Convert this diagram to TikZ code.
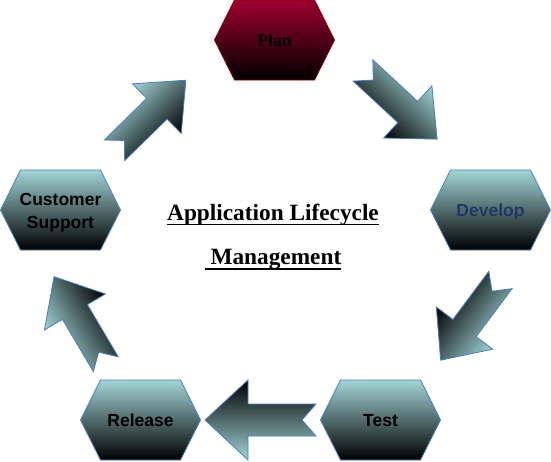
\documentclass[tikz,border=0pt]{standalone}
\usepackage{fontspec}
\setmainfont{Liberation Serif}
\newfontfamily\arialf{Liberation Sans}
\usetikzlibrary{calc}
\definecolor{teall}{RGB}{162,212,214}
\definecolor{hexborder}{RGB}{74,126,187}
\definecolor{planred}{RGB}{158,0,48}
\definecolor{planborder}{RGB}{128,0,0}
\definecolor{devblue}{RGB}{31,56,100}
\tikzset{
  hexteal/.style={top color=teall, bottom color=black, draw=hexborder, line width=0.8pt},
  hexplan/.style={top color=planred, bottom color=black, draw=planborder, line width=0.8pt},
  lbl/.style={font=\arialf\bfseries\fontsize{17.5}{22.5}\selectfont, align=center, inner sep=0pt, anchor=base},
  planlbl/.style={font=\bfseries\fontsize{17.5}{21}\selectfont, inner sep=0pt, anchor=base},
  barrow/.style={top color=teall, bottom color=black, draw=hexborder, line width=0.8pt, line join=miter},
  titletext/.style={font=\bfseries\fontsize{23.3}{28}\selectfont, inner sep=0pt, anchor=base},
  uline/.style={line width=1.3pt}
}
% hexagon centred on a named coordinate
\newcommand\hexshape[4]{%
  \coordinate (#1) at (#2,#3);
  \path[#4] ($(#1)+(-60,0)$) -- ++(20,-40) -- ++(80,0) -- ++(20,40)
     -- ++(-20,40) -- ++(-80,0) -- cycle;
}
% notched block arrow: #1 tail coordinate, #2 angle, #3 length, #4 head length, #5 head half width, #6 shaft half width
\newcommand\blockarr[6]{%
  \begin{scope}[transform canvas={shift={(#1)},rotate=#2}]
    \path[barrow] (0,-#6) -- ({#3-#4},-#6) -- ({#3-#4},-#5) -- (#3,0)
       -- ({#3-#4},#5) -- ({#3-#4},#6) -- (0,#6) -- (14,0) -- cycle;
  \end{scope}
}
\begin{document}
\begin{tikzpicture}[x=1pt,y=-1pt]
\useasboundingbox (0,0) rectangle (551,461);

% hexagons
\hexshape{planc}{274.5}{40}{hexplan}
\hexshape{devc}{490.5}{210}{hexteal}
\hexshape{testc}{380.5}{420}{hexteal}
\hexshape{relc}{140.5}{420}{hexteal}
\hexshape{csc}{60.5}{210}{hexteal}

% labels (placed by baseline)
\node[planlbl] (plan) at (274.5,46.5) {Plan};
\node[lbl, text=devblue] (develop) at (490.5,216.5) {Develop};
\node[lbl] (test) at (380.5,426) {Test};
\node[lbl] (release) at (140.5,426.5) {Release};
\node[lbl] (support) at (60.5,228.2) {Customer\\Support};

% arrow tails
\coordinate (a1) at (363,70.5);
\coordinate (a2) at (500.4,280);
\coordinate (a3) at (316,420);
\coordinate (a4) at (105.8,364.2);
\coordinate (a5) at (114.5,150.3);

\blockarr{a1}{-42.8}{101}{40}{35.5}{14.5}
\blockarr{a2}{-126.7}{100}{40}{35.2}{14.5}
\blockarr{a3}{180}{111}{43}{40}{16}
\blockarr{a4}{120.6}{101.7}{41}{35.4}{14.5}
\blockarr{a5}{44.5}{100}{40.6}{34.8}{14.5}

% title
\node[titletext] (t1) at (273,220) {Application Lifecycle};
\node[titletext] (t2) at (273,264) {~Management};
\draw[uline] ([yshift=-4.5pt]t1.base west) -- ([yshift=-4.5pt]t1.base east);
\draw[uline] ([yshift=-5pt]t2.base west) -- ([yshift=-5pt]t2.base east);
\end{tikzpicture}
\end{document}
